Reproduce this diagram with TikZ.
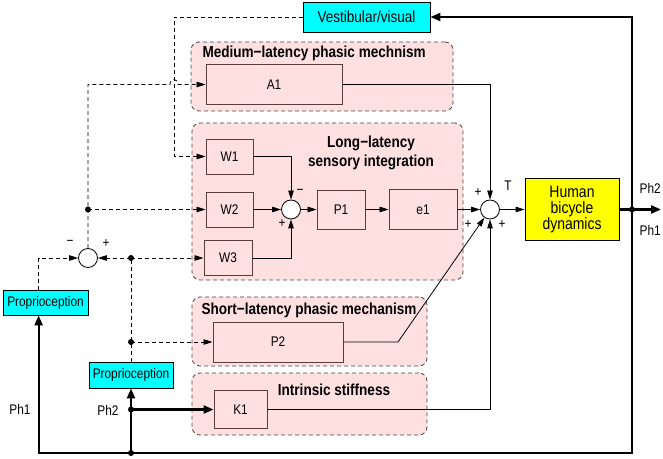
\documentclass[tikz,border=0pt]{standalone}
\usepackage{fontspec}
\setmainfont{Liberation Sans}[FakeStretch=0.85]
\usepackage{tikz}
\usetikzlibrary{arrows.meta}
\definecolor{pinkbg}{RGB}{255,224,224}
\definecolor{grpline}{RGB}{70,70,70}
\definecolor{blkline}{RGB}{90,60,60}
\definecolor{sensecyan}{RGB}{0,255,255}
\definecolor{bikeyellow}{RGB}{255,255,0}

\begin{document}
\begin{tikzpicture}[x=1bp, y=-1bp, font=\fontsize{14}{16}\selectfont,
    grp/.style={draw=grpline, dash pattern=on 4bp off 3bp, rounded corners=8bp, fill=pinkbg, line width=0.8bp},
    blk/.style={draw=blkline, fill=pinkbg, line width=0.9bp, inner sep=0pt},
    sens/.style={draw, fill=sensecyan, line width=0.8bp, inner sep=0pt},
    sumpt/.style={circle, draw, fill=white, minimum size=19bp, inner sep=0pt, line width=0.8bp},
    dotpt/.style={circle, fill, inner sep=0pt, minimum size=6bp},
    ttl/.style={font=\bfseries\fontsize{16}{19}\selectfont},
    sig/.style={line width=0.8bp, -{Triangle[length=9bp,width=5.5bp]}},
    fb/.style={sig, dash pattern=on 4bp off 3bp},
    fbline/.style={line width=0.8bp, dash pattern=on 4bp off 3bp},
    heavy/.style={line width=2.2bp, -{Triangle[length=10bp,width=8bp]}},
    heavyline/.style={line width=2.2bp}]
  \useasboundingbox (0,0) rectangle (663,459);

  \node[grp, minimum width=262bp, minimum height=69bp] (gmed) at (322,76.5) {};
  \node[grp, minimum width=271bp, minimum height=157bp] (glong) at (327.5,201.5) {};
  \node[grp, minimum width=235bp, minimum height=69bp] (gshort) at (309.5,331.5) {};
  \node[grp, minimum width=235bp, minimum height=62bp] (gstiff) at (309.5,404) {};

  \node[ttl, anchor=west] (tmed) at (199,53) {Medium−latency phasic mechnism};
  \node[ttl, align=center] (tlong) at (371,152.5) {Long−latency\\sensory integration};
  \node[ttl, anchor=west] (tshort) at (198,310) {Short−latency phasic mechanism};
  \node[ttl] (tstiff) at (334,390) {Intrinsic stiffness};

  \node[blk, minimum width=136bp, minimum height=40bp] (a1) at (274,84.5) {A1};
  \node[blk, minimum width=47bp, minimum height=35bp] (w1) at (229.5,156.5) {W1};
  \node[blk, minimum width=47bp, minimum height=35bp] (w2) at (229.5,209.5) {W2};
  \node[blk, minimum width=48bp, minimum height=35bp] (w3) at (228,258) {W3};
  \node[sumpt] (sum1) at (291,209.5) {};
  \node[blk, minimum width=48bp, minimum height=39bp] (p1) at (341,209.5) {P1};
  \node[blk, minimum width=68bp, minimum height=40bp] (e1) at (423,209.5) {e1};
  \node[sumpt] (sum2) at (490,209.5) {};
  \node[draw, fill=bikeyellow, line width=0.8bp, minimum width=94bp, minimum height=62bp, align=center,
        font=\fontsize{16.5}{16}\selectfont] (bike) at (572,209.5) {Human\\bicycle\\dynamics};
  \node[blk, minimum width=130bp, minimum height=40bp] (p2) at (278,342) {P2};
  \node[blk, minimum width=53bp, minimum height=38bp] (k1) at (240.5,409.5) {K1};

  \node[sens, minimum width=127bp, minimum height=30bp, font=\fontsize{16}{18}\selectfont] (vest) at (366.5,17) {Vestibular/visual};
  \node[sens, minimum width=85bp, minimum height=25bp] (prop1) at (45.5,302.5) {Proprioception};
  \node[sens, minimum width=84bp, minimum height=26bp] (prop2) at (131,375) {Proprioception};
  \node[sumpt] (sum3) at (88,258) {};

  \coordinate (d2) at (88,209.5);
  \coordinate (d3) at (131,258);
  \coordinate (d4) at (131,342);
  \coordinate (kdot) at (131,409.5);
  \coordinate (bdot) at (131,453);
  \coordinate (odot) at (632,209.5);
  \coordinate (cr) at (632,453);
  \coordinate (outend) at (661,209.5);
  \coordinate (vcorner) at (174,156.5);
  \coordinate (acorner) at (88,84.5);
  \coordinate (hopa) at (170,84.5);
  \coordinate (hopb) at (178,84.5);
  \coordinate (pbend) at (398,342);

  \draw[sig] (w1.east) -| (sum1.north);
  \draw[sig] (w2.east) -- (sum1.west);
  \draw[sig] (w3.east) -| (sum1.south);
  \draw[sig] (sum1.east) -- (p1.west);
  \draw[sig] (p1.east) -- (e1.west);
  \draw[sig] (e1.east) -- (sum2.west);
  \draw[sig] (a1.east) -| (sum2.north);
  \draw[sig] (p2.east) -- (pbend) -- (sum2);
  \draw[sig] (k1.east) -| (sum2.south);
  \draw[sig] (sum2.east) -- (bike.west);

  \draw[fb] (vest.west) -| (vcorner) -- (w1.west);
  \draw[fb] (sum3.north) -- (d2) -- (acorner) -- (hopa) .. controls (170,78) and (178,78) .. (hopb) -- (a1.west);
  \draw[fb] (d2) -- (w2.west);
  \draw[fb] ([xshift=36bp]prop1.north west) |- (sum3.west);
  \draw[fb] (d3) -- (sum3.east);
  \draw[fb] (d3) -- (w3.west);
  \draw[fbline] (prop2.north) -- (d4) -- (d3);
  \draw[fb] (d4) -- (p2.west);

  \draw[heavy] (bike.east) -- (outend);
  \draw[heavy] (odot) |- (vest.east);
  \draw[heavy] (odot) -- (cr) -| ([xshift=36bp]prop1.south west);
  \draw[heavy] (bdot) -- (prop2.south);
  \draw[heavy] (kdot) -- (k1.west);

  \foreach \pt in {d2,d3,d4,kdot,bdot,odot}
    \node[dotpt] at (\pt) {};

  \node (m1) at (300,192) {−};
  \node (a1p) at (282,223) {+};
  \node (s2a) at (478,192) {+};
  \node (s2b) at (468,224) {+};
  \node (s2c) at (502,224) {+};
  \node (tlab) at (508,186) {T};
  \node (m3) at (70,243) {−};
  \node (p3) at (106,243) {+};
  \node[anchor=east, inner sep=1bp] (ph2r) at (662,188) {Ph2};
  \node[anchor=east, inner sep=1bp] (ph1r) at (662,230) {Ph1};
  \node (ph1l) at (20,409) {Ph1};
  \node (ph2l) at (108,410) {Ph2};
\end{tikzpicture}
\end{document}
